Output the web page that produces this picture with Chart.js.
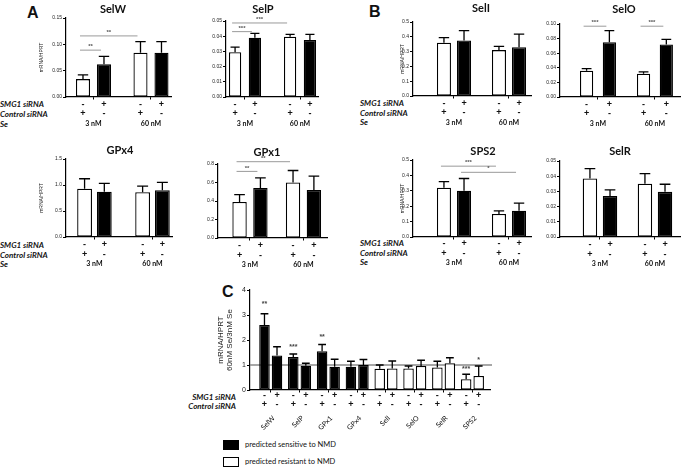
<!DOCTYPE html>
<html>
<head>
<meta charset="utf-8">
<script src="https://cdn.jsdelivr.net/npm/chart.js@4.4.1/dist/chart.umd.min.js"></script>
<style>
body { margin: 0; background: #fff; width: 683px; height: 468px; position: relative; overflow: hidden; font-family: Lato, sans-serif; }
canvas { position: absolute; }
.lbl { position: absolute; white-space: nowrap; color: #111; }
.row { font: italic bold 8px Lato; line-height: 10px; height: 10px; }
.letter { font: bold 16px 'Liberation Sans'; line-height: 16px; }
.key { position: absolute; width: 16px; height: 10px; box-sizing: border-box; border: 1.5px solid #000; }
.keytxt { font: 7.5px Lato; line-height: 10px; }
</style>
</head>
<body>
<div class="lbl letter" style="left:27px;top:5px">A</div>
<div class="lbl letter" style="left:369px;top:4px">B</div>
<div class="lbl letter" style="left:222px;top:284px">C</div>

<div class="lbl row" style="left:0;top:99px">SMG1 siRNA</div>
<div class="lbl row" style="left:0;top:109px">Control siRNA</div>
<div class="lbl row" style="left:0;top:119px">Se</div>
<div class="lbl row" style="left:0;top:240px">SMG1 siRNA</div>
<div class="lbl row" style="left:0;top:250px">Control siRNA</div>
<div class="lbl row" style="left:0;top:259px">Se</div>
<div class="lbl row" style="left:360px;top:98px">SMG1 siRNA</div>
<div class="lbl row" style="left:360px;top:108px">Control siRNA</div>
<div class="lbl row" style="left:360px;top:117px">Se</div>
<div class="lbl row" style="left:360px;top:238px">SMG1 siRNA</div>
<div class="lbl row" style="left:360px;top:248px">Control siRNA</div>
<div class="lbl row" style="left:360px;top:257px">Se</div>
<div class="lbl row" style="left:150px;width:86px;text-align:right;top:392px">SMG1 siRNA</div>
<div class="lbl row" style="left:150px;width:86px;text-align:right;top:401px">Control siRNA</div>

<div class="key" style="left:223px;top:440px;background:#000"></div>
<div class="lbl keytxt" style="left:245px;top:440px">predicted sensitive to NMD</div>
<div class="key" style="left:223px;top:457px;background:#fff"></div>
<div class="lbl keytxt" style="left:245px;top:457px">predicted resistant to NMD</div>

<script>
Chart.defaults.font.family = "'Liberation Sans', Arial, sans-serif";
Chart.defaults.color = '#222';

// signs under each bar, per dataset: [control siRNA bar, SMG1 siRNA bar]
const seLevels = ['3 nM', '60 nM'];
const smg1Signs = ['-', '+'];
const ctrlSigns = ['+', '-'];

// A
const selwCtrl = [0.034, 0.084], selwCtrlSd = [0.008, 0.021];
const selwSmg1 = [0.062, 0.084], selwSmg1Sd = [0.015, 0.021];
const selpCtrl = [0.0295, 0.0397], selpCtrlSd = [0.0033, 0.0015];
const selpSmg1 = [0.039, 0.0375], selpSmg1Sd = [0.0029, 0.0037];
const gpx4Ctrl = [0.93, 0.86], gpx4CtrlSd = [0.19, 0.12];
const gpx4Smg1 = [0.87, 0.90], gpx4Smg1Sd = [0.16, 0.15];
const gpx1Ctrl = [0.39, 0.60], gpx1CtrlSd = [0.08, 0.13];
const gpx1Smg1 = [0.54, 0.52], gpx1Smg1Sd = [0.11, 0.15];

// B
const seliCtrl = [0.36, 0.31], seliCtrlSd = [0.035, 0.025];
const seliSmg1 = [0.375, 0.33], seliSmg1Sd = [0.067, 0.088];
const seloCtrl = [0.036, 0.032], seloCtrlSd = [0.003, 0.0025];
const seloSmg1 = [0.075, 0.072], seloSmg1Sd = [0.016, 0.007];
const sps2Ctrl = [0.32, 0.15], sps2CtrlSd = [0.04, 0.02];
const sps2Smg1 = [0.30, 0.17], sps2Smg1Sd = [0.08, 0.05];
const selrCtrl = [0.0385, 0.035], selrCtrlSd = [0.0065, 0.0067];
const selrSmg1 = [0.027, 0.0297], selrSmg1Sd = [0.004, 0.005];

// C: ratio 60nM Se / 3nM Se
const genes = ['SelW', 'SelP', 'GPx1', 'GPx4', 'SelI', 'SelO', 'SelR', 'SPS2'];
const nmdSensitive = [true, true, true, true, false, false, false, false];
const ratioCtrl = [2.6, 1.32, 1.55, 0.93, 0.85, 0.86, 0.9, 0.43];
const ratioCtrlSd = [0.45, 0.12, 0.27, 0.22, 0.15, 0.1, 0.25, 0.2];
const ratioSmg1 = [1.38, 0.97, 0.93, 1.0, 0.86, 0.96, 1.07, 0.56];
const ratioSmg1Sd = [0.35, 0.1, 0.3, 0.22, 0.3, 0.23, 0.22, 0.4];

const decor = {
  id: 'decor',
  beforeDatasetsDraw(chart, args, o) {
    if (o.refLine == null) return;
    const ctx = chart.ctx, ca = chart.chartArea;
    const y = chart.scales.y.getPixelForValue(o.refLine);
    ctx.save();
    ctx.strokeStyle = '#8a8a8a';
    ctx.lineWidth = 1.6;
    ctx.beginPath(); ctx.moveTo(ca.left, y); ctx.lineTo(ca.right + 2, y); ctx.stroke();
    ctx.restore();
  },
  afterDatasetsDraw(chart, args, o) {
    const ctx = chart.ctx, ca = chart.chartArea;
    const ys = chart.scales.y, xs = chart.scales.x;
    const bar = (d, i) => chart.getDatasetMeta(d).data[i];
    ctx.save();
    // error bars (mean + SD)
    chart.data.datasets.forEach((ds, d) => {
      chart.getDatasetMeta(d).data.forEach((el, i) => {
        const top = ys.getPixelForValue(ds.data[i].y + ds.sd[i]);
        const cap = el.width * 0.37;
        ctx.strokeStyle = '#000';
        ctx.lineWidth = 1.3;
        ctx.beginPath();
        ctx.moveTo(el.x, el.y); ctx.lineTo(el.x, top);
        ctx.moveTo(el.x - cap, top); ctx.lineTo(el.x + cap, top);
        ctx.stroke();
      });
    });
    ctx.textAlign = 'center';
    ctx.textBaseline = 'middle';
    // significance lines
    (o.brackets || []).forEach(([d1, i1, d2, i2, v, t]) => {
      const y = ys.getPixelForValue(v);
      const x1 = bar(d1, i1).x - 3, x2 = bar(d2, i2).x - 3;
      ctx.strokeStyle = '#9a9a9a';
      ctx.lineWidth = 1;
      ctx.beginPath(); ctx.moveTo(x1, y); ctx.lineTo(x2, y); ctx.stroke();
      ctx.fillStyle = '#555';
      ctx.font = 'bold 6px Liberation Sans';
      ctx.fillText(t, (x1 + x2) / 2, y - 3.5);
    });
    (o.stars || []).forEach(([d, i, v, t]) => {
      ctx.fillStyle = '#444';
      ctx.font = 'bold 7px Liberation Sans';
      ctx.fillText(t, bar(d, i).x, ys.getPixelForValue(v));
    });
    // sign rows under the bars
    if (o.rows) {
      ctx.fillStyle = '#111';
      ctx.font = 'bold 9px Liberation Sans';
      chart.data.datasets.forEach((ds, d) => {
        chart.getDatasetMeta(d).data.forEach(el => {
          ctx.fillText(smg1Signs[d], el.x, ca.bottom + o.rows[0]);
          ctx.fillText(ctrlSigns[d], el.x, ca.bottom + o.rows[1]);
        });
      });
      if (o.rows[2] != null) {
        ctx.font = 'bold 7px Lato';
        seLevels.forEach((s, i) => ctx.fillText(s, xs.getPixelForValue(i), ca.bottom + o.rows[2]));
      }
    }
    if (o.genes) {
      ctx.fillStyle = '#111';
      ctx.font = '7px Lato';
      ctx.textAlign = 'right';
      o.genes.forEach((g, i) => {
        ctx.save();
        ctx.translate(xs.getPixelForValue(i) + 3, ca.bottom + 27);
        ctx.rotate(-Math.PI / 4);
        ctx.fillText(g, 0, 0);
        ctx.restore();
      });
      ctx.textAlign = 'center';
    }
    if (o.title) {
      ctx.fillStyle = '#111';
      ctx.font = 'bold 11px Lato';
      ctx.fillText(o.title.text, o.title.x, o.title.y);
    }
    if (o.ylabel) {
      ctx.fillStyle = '#222';
      ctx.font = o.ylabel.size + 'px Liberation Sans';
      o.ylabel.lines.forEach((t, k) => {
        ctx.save();
        ctx.translate(o.ylabel.x[k], o.ylabel.y != null ? o.ylabel.y : (ca.top + ca.bottom) / 2);
        ctx.rotate(-Math.PI / 2);
        ctx.fillText(t, 0, 0);
        ctx.restore();
      });
    }
    ctx.restore();
  }
};

function makePanel(p) {
  const [bl, bt, bw, bh] = p.box;
  const [L, T, R, B] = p.pad;
  const cv = document.createElement('canvas');
  cv.width = bw; cv.height = bh;
  cv.style.left = bl + 'px'; cv.style.top = bt + 'px';
  document.body.appendChild(cv);
  const o = {
    rows: p.rows, brackets: p.brackets, stars: p.stars, genes: p.genes, refLine: p.refLine
  };
  if (p.title) o.title = { text: p.title[0], x: p.title[1] - bl, y: p.title[2] - bt };
  if (p.ylabel) o.ylabel = {
    lines: p.ylabel.lines, x: p.ylabel.x.map(v => v - bl),
    y: p.ylabel.y != null ? p.ylabel.y - bt : null, size: p.ylabel.size
  };
  const yGrid = { drawOnChartArea: false, drawTicks: true, tickLength: 3, color: '#000', lineWidth: 1 };
  const xGrid = { drawOnChartArea: false, drawTicks: true, tickLength: 2.5, color: '#000', lineWidth: 1, offset: false };
  const axisBorder = { color: '#000', width: 1.2 };
  return new Chart(cv, {
    type: 'bar',
    data: {
      datasets: p.series.map(s => ({
        data: s.values.map((v, i) => ({ x: i, y: v })),
        sd: s.sd,
        backgroundColor: s.fill,
        borderColor: '#000',
        borderWidth: 1.3,
        borderSkipped: false,
        categoryPercentage: p.cat,
        barPercentage: p.bar
      }))
    },
    options: {
      responsive: false,
      animation: false,
      layout: { padding: { top: T, right: R, left: 0, bottom: 0 } },
      plugins: { legend: { display: false }, tooltip: { enabled: false }, decor: o },
      scales: {
        x: {
          type: 'linear', offset: false, min: p.xmin, max: p.xmax,
          afterBuildTicks: s => { s.ticks = p.series[0].values.map((v, i) => ({ value: i })); },
          afterFit: s => { s.height = B; },
          ticks: { display: false },
          grid: xGrid, border: axisBorder
        },
        y: {
          min: 0, max: p.ymax,
          afterFit: s => { s.width = L; },
          ticks: { stepSize: p.step, padding: 1, font: { size: p.tickSize || 5 }, color: '#222',
                   callback: v => v.toFixed(p.dec) },
          grid: yGrid, border: axisBorder
        }
      }
    },
    plugins: [decor]
  });
}

const white = '#fff', black = '#000';
const pair = (c, cs, s, ss) => [
  { values: c, sd: cs, fill: white },
  { values: s, sd: ss, fill: black }
];
const mrna = x => ({ lines: ['mRNA/HPRT'], x: [x], size: 5 });

makePanel({ box: [30, 0, 150, 132], pad: [36, 18, 9, 35], xmin: -0.478, xmax: 1.348, cat: 0.73, bar: 0.67,
  ymax: 0.15, step: 0.05, dec: 2, title: ['SelW', 113, 9], ylabel: mrna(42), rows: [7.5, 17, 27],
  series: pair(selwCtrl, selwCtrlSd, selwSmg1, selwSmg1Sd),
  brackets: [[0, 0, 1, 0, 0.089, '**'], [0, 0, 0, 1, 0.116, '**']] });

makePanel({ box: [200, 0, 125, 132], pad: [26, 21, 7, 35], xmin: -0.345, xmax: 1.327, cat: 0.72, bar: 0.62,
  ymax: 0.05, step: 0.01, dec: 2, title: ['SelP', 263, 9], rows: [7.5, 17, 27],
  series: pair(selpCtrl, selpCtrlSd, selpSmg1, selpSmg1Sd),
  brackets: [[0, 0, 1, 0, 0.043, '***'], [0, 0, 0, 1, 0.0487, '***']] });

makePanel({ box: [395, 0, 140, 131], pad: [18, 22, 4, 35], xmin: -0.745, xmax: 1.4, cat: 0.73, bar: 0.7,
  ymax: 0.5, step: 0.1, dec: 1, title: ['SelI', 481, 8], ylabel: mrna(403), rows: [7.5, 17, 26.5],
  series: pair(seliCtrl, seliCtrlSd, seliSmg1, seliSmg1Sd) });

makePanel({ box: [535, 0, 148, 132], pad: [25, 24, 3, 35], xmin: -0.667, xmax: 1.44, cat: 0.8, bar: 0.58,
  ymax: 0.10, step: 0.02, dec: 2, title: ['SelO', 624, 9], rows: [7.5, 17, 27],
  series: pair(seloCtrl, seloCtrlSd, seloSmg1, seloSmg1Sd),
  brackets: [[0, 0, 1, 0, 0.097, '***'], [0, 1, 1, 1, 0.097, '***']] });

makePanel({ box: [30, 140, 150, 132], pad: [36, 19, 8, 35], xmin: -0.49, xmax: 1.336, cat: 0.68, bar: 0.75,
  ymax: 1.5, step: 0.5, dec: 1, title: ['GPx4', 120, 150], ylabel: mrna(42), rows: [8, 18, 27],
  series: pair(gpx4Ctrl, gpx4CtrlSd, gpx4Smg1, gpx4Smg1Sd) });

makePanel({ box: [195, 140, 135, 133], pad: [23, 24, 3, 35], xmin: -0.598, xmax: 1.44, cat: 0.78, bar: 0.69,
  ymax: 0.8, step: 0.2, dec: 1, title: ['GPx1', 267, 152], rows: [8, 18, 27],
  series: pair(gpx1Ctrl, gpx1CtrlSd, gpx1Smg1, gpx1Smg1Sd),
  brackets: [[0, 0, 1, 0, 0.72, '**'], [0, 0, 0, 1, 0.825, '**']] });

makePanel({ box: [395, 140, 140, 132], pad: [18, 20, 4, 35], xmin: -0.745, xmax: 1.4, cat: 0.73, bar: 0.7,
  ymax: 0.5, step: 0.1, dec: 1, title: ['SPS2', 483, 151], ylabel: mrna(403), rows: [7, 17, 26],
  series: pair(sps2Ctrl, sps2CtrlSd, sps2Smg1, sps2Smg1Sd),
  brackets: [[0, 0, 0, 1, 0.46, '***'], [1, 0, 1, 1, 0.42, '*']] });

makePanel({ box: [535, 140, 148, 132], pad: [25, 21, 3, 35], xmin: -0.727, xmax: 1.455, cat: 0.73, bar: 0.72,
  ymax: 0.05, step: 0.01, dec: 2, title: ['SelR', 620, 151], rows: [8, 18, 27],
  series: pair(selrCtrl, selrCtrlSd, selrSmg1, selrSmg1Sd) });

const nmdFill = nmdSensitive.map(s => s ? black : white);
makePanel({ box: [195, 282, 300, 155], pad: [55, 8, 5, 47], xmin: -0.72, xmax: 7.61, cat: 0.87, bar: 0.84,
  ymax: 4, step: 1, dec: 0, tickSize: 7, rows: [6, 15], genes: genes, refLine: 1,
  ylabel: { lines: ['mRNA/HPRT', '60nM Se/3nM Se'], x: [221, 230], y: 340, size: 8 },
  series: [
    { values: ratioCtrl, sd: ratioCtrlSd, fill: nmdFill },
    { values: ratioSmg1, sd: ratioSmg1Sd, fill: nmdFill }
  ],
  stars: [[0, 0, 3.44, '**'], [0, 1, 1.72, '***'], [0, 2, 2.12, '**'], [0, 7, 0.84, '***'], [1, 7, 1.2, '*']] });
</script>
</body>
</html>
